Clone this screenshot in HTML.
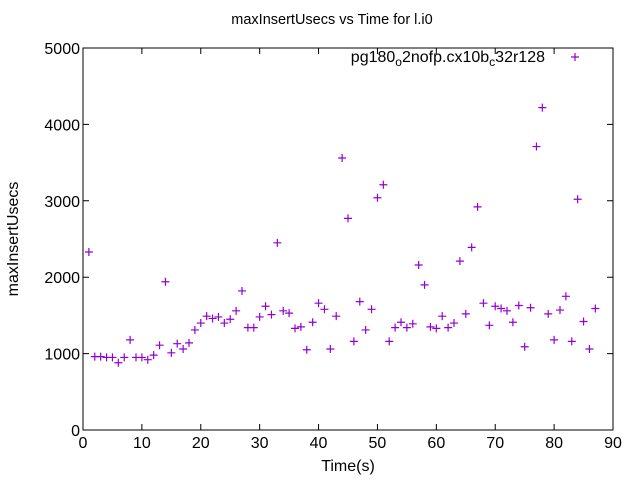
<!DOCTYPE html>
<html><head><meta charset="utf-8"><style>
body{margin:0;background:#fff}
text{font-family:"Liberation Sans",sans-serif;font-size:16px;fill:#000}
</style></head><body>
<svg id="chart" width="640" height="480">
<rect width="640" height="480" fill="#fff"/>
<text x="332" y="24" text-anchor="middle" style="font-size:14.5px">maxInsertUsecs vs Time for l.i0</text>
<text x="348" y="471" text-anchor="middle">Time(s)</text>
<text transform="translate(18,239) rotate(-90)" text-anchor="middle">maxInsertUsecs</text>
<g id="axes"></g>
<g id="marks"></g>
<text x="545" y="62" text-anchor="end">pg180<tspan font-size="12" dy="4">o</tspan><tspan dy="-4">2nofp.cx10b</tspan><tspan font-size="12" dy="4">c</tspan><tspan dy="-4">32r128</tspan></text>
<path d="M571 57h8M575 53v8" stroke="#9400d3" stroke-width="1.2"/>
</svg>
<script>
const xTicks=[0,10,20,30,40,50,60,70,80,90];
const yTicks=[0,1000,2000,3000,4000,5000];
const times=[1,2,3,4,5,6,7,8,9,10,11,12,13,14,15,16,17,18,19,20,21,22,23,24,25,26,27,28,29,30,31,32,33,34,35,36,37,38,39,40,41,42,43,44,45,46,47,48,49,50,51,52,53,54,55,56,57,58,59,60,61,62,63,64,65,66,67,68,69,70,71,72,73,74,75,76,77,78,79,80,81,82,83,84,85,86,87];
const values=[2330,960,960,950,950,880,950,1180,950,950,920,980,1110,1940,1010,1130,1060,1140,1310,1400,1490,1460,1480,1400,1450,1560,1820,1340,1340,1480,1620,1510,2450,1560,1530,1330,1350,1050,1410,1660,1580,1060,1490,3560,2770,1160,1680,1310,1580,3040,3210,1160,1340,1410,1340,1390,2160,1900,1350,1330,1490,1340,1400,2210,1520,2390,2920,1660,1370,1620,1590,1560,1410,1630,1090,1600,3710,4220,1520,1180,1570,1750,1160,3020,1420,1060,1590];
const L=83,R=613,T=48,B=430;
const xs=v=>L+(v-0)/(90-0)*(R-L);
const ys=v=>B-(v/5000)*(B-T);
const NS='http://www.w3.org/2000/svg';
const axes=document.getElementById('axes'),marks=document.getElementById('marks');
function mk(tag,at,parent){const e=document.createElementNS(NS,tag);for(const k in at)e.setAttribute(k,at[k]);parent.appendChild(e);return e;}
const frame=mk('rect',{x:L,y:T,width:R-L,height:B-T,fill:'none',stroke:'#000','stroke-width':1},axes);


xTicks.forEach(t=>{const x=xs(t);
const p=mk('path',{d:`M${x} ${B}v-6M${x} ${T}v6`,stroke:'#000'},axes);


const tx=mk('text',{x:x,y:B+18,'text-anchor':'middle'},axes);tx.textContent=t;

});
yTicks.forEach(t=>{const y=ys(t);
const p=mk('path',{d:`M${L} ${y}h6M${R} ${y}h-6`,stroke:'#000'},axes);


const tx=mk('text',{x:L-3,y:y+6,'text-anchor':'end'},axes);tx.textContent=t;

});
times.forEach((t,i)=>{const x=xs(t),y=ys(values[i]);
const p=mk('path',{d:`M${x-4} ${y}h8M${x} ${y-4}v8`,stroke:'#9400d3','stroke-width':1.2},marks);

});
</script>
</body></html>
